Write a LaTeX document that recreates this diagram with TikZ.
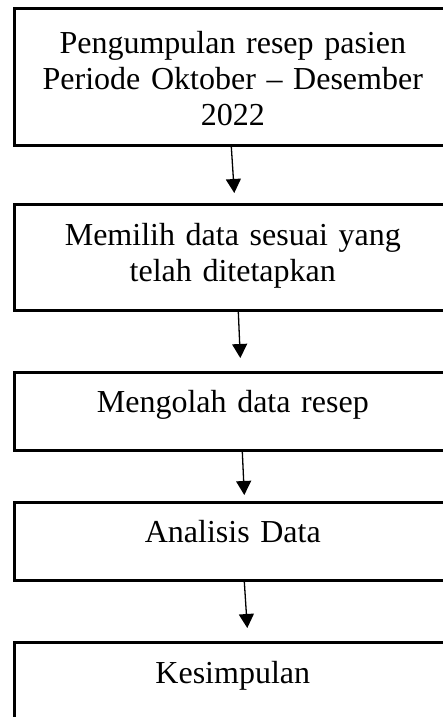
\documentclass[tikz,border=0pt]{standalone}
\usepackage{fontspec}
\setmainfont{Liberation Serif}
\usetikzlibrary{arrows.meta}
\tikzstyle{box}=[draw,line width=2.6pt,anchor=north west,inner sep=0pt,minimum width=437pt]
\tikzstyle{boxtext}=[anchor=base,text width=420pt,align=center,inner sep=0pt,font=\fontsize{32pt}{36.5pt}\selectfont]
\tikzstyle{flow}=[draw,line width=1.3pt,-{Triangle[width=15pt,length=14pt]}]

\begin{document}
\begin{tikzpicture}[x=1pt,y=1pt]
	\useasboundingbox (0,0) rectangle (443,-717);
	\clip (0,0) rectangle (443,-717);

	% First we draw the boxes (name/top/height)
	\foreach \name/\ytop/\boxh in {kumpul/7/137, pilih/203/106, olah/371/78,
								analisis/501/78, simpul/641/100}
	\node[box,minimum height=\boxh pt] (\name) at (13,-\ytop) {};

	% Then the text of each step
	\node[boxtext] (tkumpul) at ([yshift=-46pt]kumpul.north)
		{Pengumpulan resep pasien\\Periode Oktober -- Desember\\2022};
	\node[boxtext] (tpilih) at ([yshift=-42pt]pilih.north)
		{Memilih data sesuai yang\\telah ditetapkan};
	\node[boxtext] (tolah) at ([yshift=-41pt]olah.north) {Mengolah data resep};
	\node[boxtext] (tanalisis) at ([yshift=-41pt]analisis.north) {Analisis Data};
	\node[boxtext] (tsimpul) at ([yshift=-42pt]simpul.north) {Kesimpulan};

	% Connect the steps with arrows
	\foreach \source/\dest/\xa/\xb/\gap in {kumpul/pilih/-1.5/1.5/10, pilih/olah/5.5/7.5/13,
								olah/analisis/9.5/11.5/6, analisis/simpul/11.5/14.5/13}
	\path[flow] ([xshift=\xa pt]\source.south) -- ([xshift=\xb pt,yshift=\gap pt]\dest.north);

\end{tikzpicture}
\end{document}
